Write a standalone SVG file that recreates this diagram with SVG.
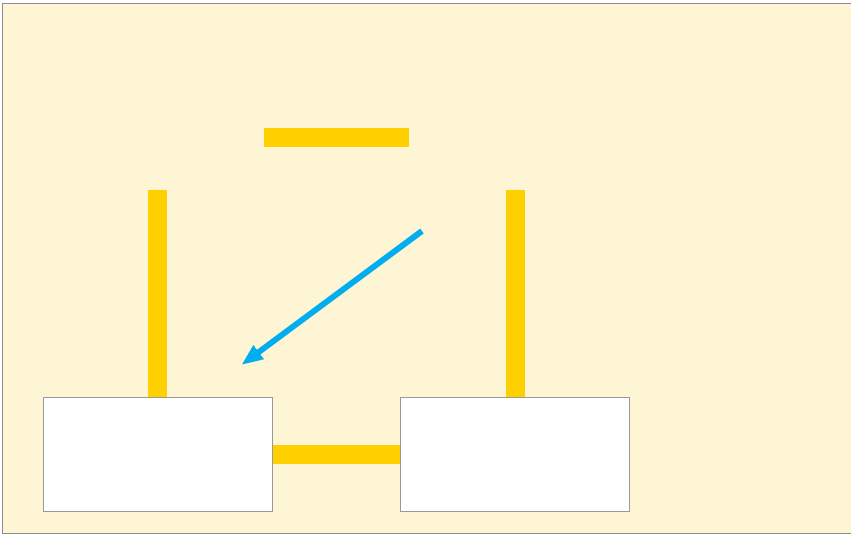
<svg xmlns="http://www.w3.org/2000/svg" width="851" height="536" viewBox="0 0 851 536">
<style>
.bar{fill:#FFD000;}
.box{fill:#FFFFFF;stroke:#999999;stroke-width:1;}
</style>
<defs>
<marker id="ah" markerWidth="21" markerHeight="18" refX="1" refY="9" orient="auto" markerUnits="userSpaceOnUse" viewBox="0 0 21 18">
<path d="M0,0 L21,9 L0,18 Z" fill="#00AEEF"/>
</marker>
</defs>
<rect x="2.5" y="3.5" width="852" height="530" fill="#FEF5D4" stroke="#8c8c8c" stroke-width="1"/>
<g id="connectors">
<rect class="bar" x="264" y="128" width="145" height="19"/>
<rect class="bar" x="148" y="190" width="19" height="208"/>
<rect class="bar" x="506" y="190" width="19" height="208"/>
<rect class="bar" x="272" y="445" width="128" height="19"/>
<line x1="422" y1="231" x2="258" y2="352.6" stroke="#00AEEF" stroke-width="6" marker-end="url(#ah)"/>
</g>
<g id="node1"><rect class="box" x="43.5" y="397.5" width="229" height="114"/></g>
<g id="node2"><rect class="box" x="400.5" y="397.5" width="229" height="114"/></g>
</svg>
